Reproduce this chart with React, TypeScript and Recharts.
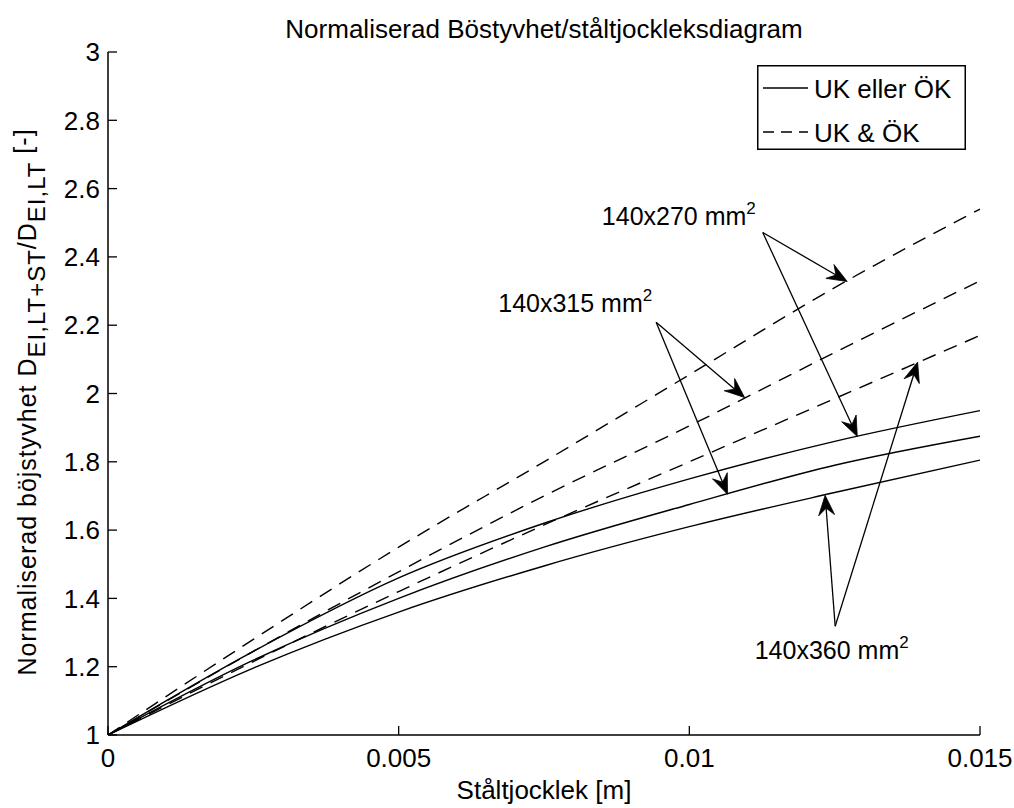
import React from 'react';
import { LineChart, Line, XAxis, YAxis, ReferenceLine, ReferenceDot, Legend } from 'recharts';

// Steel thickness [m]
const thickness = [0, 0.0025, 0.005, 0.0075, 0.01, 0.0125, 0.015];
// UK & ÖK (dashed)
const dashed270 = [1, 1.28, 1.55, 1.8, 2.055, 2.31, 2.54];
const dashed315 = [1, 1.245, 1.478, 1.7, 1.905, 2.12, 2.33];
const dashed360 = [1, 1.215, 1.42, 1.615, 1.8, 1.985, 2.17];
// UK eller ÖK (solid)
const solid270 = [1, 1.245, 1.46, 1.62, 1.75, 1.86, 1.95];
const solid315 = [1, 1.219, 1.4, 1.55, 1.675, 1.79, 1.875];
const solid360 = [1, 1.196, 1.36, 1.495, 1.61, 1.71, 1.805];

const xTicks = [0, 0.005, 0.01, 0.015];
const xTickLabels = ['0', '0.005', '0.01', '0.015'];
const yTicks = [1, 1.2, 1.4, 1.6, 1.8, 2, 2.2, 2.4, 2.6, 2.8, 3];
const yTickLabels = ['1', '1.2', '1.4', '1.6', '1.8', '2', '2.2', '2.4', '2.6', '2.8', '3'];

const legendLabels = ['UK eller ÖK', 'UK & ÖK'];
const sectionLabels = ['140x270 mm', '140x315 mm', '140x360 mm'];
// label anchor (start, baseline) in data coordinates
const labelPoints = [
  { x: 0.008495, y: 2.492 },
  { x: 0.006713, y: 2.238 },
  { x: 0.011125, y: 1.222 },
];
// annotation arrows (from label to curve) in data coordinates
const arrows = [
  { x1: 0.011263, y1: 2.4715, x2: 0.012716, y2: 2.328 },
  { x1: 0.011263, y1: 2.4715, x2: 0.012889, y2: 1.874 },
  { x1: 0.009429, y1: 2.2088, x2: 0.010952, y2: 1.988 },
  { x1: 0.009429, y1: 2.2088, x2: 0.010657, y2: 1.705 },
  { x1: 0.012509, y1: 1.3183, x2: 0.012336, y2: 1.702 },
  { x1: 0.012509, y1: 1.3183, x2: 0.013927, y2: 2.092 },
];

const data = thickness.map((t, i) => ({
  t,
  d270: dashed270[i],
  d315: dashed315[i],
  d360: dashed360[i],
  s270: solid270[i],
  s315: solid315[i],
  s360: solid360[i],
}));

const FONT = '"Liberation Sans", Arial, sans-serif';
const FS = 26;
const DASH = '14 9';

const ArrowShape = (p: any) => {
  const { x1, y1, x2, y2 } = p;
  const dx = x2 - x1;
  const dy = y2 - y1;
  const L = Math.hypot(dx, dy) || 1;
  const ux = dx / L;
  const uy = dy / L;
  const nx = -uy;
  const ny = ux;
  const len = 20;
  const hw = 8;
  const notch = 13;
  const bx = x2 - ux * len;
  const by = y2 - uy * len;
  const pts = [
    [x2, y2],
    [bx + nx * hw, by + ny * hw],
    [x2 - ux * notch, y2 - uy * notch],
    [bx - nx * hw, by - ny * hw],
  ]
    .map((q) => q.join(','))
    .join(' ');
  return (
    <g>
      <line x1={x1} y1={y1} x2={x2 - ux * notch} y2={y2 - uy * notch} stroke="#000" strokeWidth={1.3} />
      <polygon points={pts} fill="#000" stroke="#000" strokeWidth={0.8} />
    </g>
  );
};

const makeLabel = (text: string) => (p: any) => (
  <text x={p.cx} y={p.cy} fontFamily={FONT} fontSize={FS - 1} fill="#000">
    {text}
    <tspan dy={-11} fontSize={17}>2</tspan>
  </text>
);

const LegendBox = () => (
  <svg width={209} height={85} style={{ display: 'block' }}>
    <rect x={0.75} y={0.75} width={207.5} height={83.5} fill="#fff" stroke="#000" strokeWidth={1.5} />
    <line x1={6} y1={23} x2={51} y2={23} stroke="#000" strokeWidth={1.4} />
    <text x={57} y={33} fontFamily={FONT} fontSize={FS} fill="#000">{legendLabels[0]}</text>
    <line x1={6} y1={67} x2={51} y2={67} stroke="#000" strokeWidth={1.4} strokeDasharray="11 7" />
    <text x={57} y={77} fontFamily={FONT} fontSize={FS} fill="#000">{legendLabels[1]}</text>
  </svg>
);

const tickStyle = { fontSize: FS, fill: '#000', fontFamily: FONT };

export default function App() {
  return (
    <div style={{ position: 'absolute', left: 0, top: 0, width: 1014, height: 808, background: '#fff' }}>
      <LineChart
        width={1014}
        height={808}
        data={data}
        margin={{ top: 52, right: 34, bottom: 43, left: 68 }}
      >
        <XAxis
          dataKey="t"
          type="number"
          domain={[0, 0.015]}
          allowDataOverflow
          ticks={xTicks}
          interval={0}
          tickFormatter={(v: number) => xTickLabels[xTicks.indexOf(v)] ?? String(v)}
          tick={tickStyle}
          tickSize={-9}
          tickMargin={23}
          height={30}
          axisLine={{ stroke: '#000', strokeWidth: 1.5 }}
          tickLine={{ stroke: '#000', strokeWidth: 1.3 }}
        />
        <XAxis
          xAxisId="top"
          orientation="top"
          type="number"
          domain={[0, 0.015]}
          allowDataOverflow
          ticks={xTicks}
          interval={0}
          tick={false}
          tickSize={-9}
          height={0}
          axisLine={{ stroke: '#000', strokeWidth: 1.5 }}
          tickLine={{ stroke: '#000', strokeWidth: 1.3 }}
        />
        <YAxis
          type="number"
          domain={[1, 3]}
          allowDataOverflow
          ticks={yTicks}
          interval={0}
          tickFormatter={(v: number) => yTickLabels[yTicks.indexOf(v)] ?? String(v)}
          tick={tickStyle}
          tickSize={-9}
          tickMargin={17}
          width={40}
          axisLine={{ stroke: '#000', strokeWidth: 1.5 }}
          tickLine={{ stroke: '#000', strokeWidth: 1.3 }}
        />
        <YAxis
          yAxisId="right"
          orientation="right"
          type="number"
          domain={[1, 3]}
          allowDataOverflow
          ticks={yTicks}
          interval={0}
          tick={false}
          tickSize={-9}
          width={0}
          axisLine={{ stroke: '#000', strokeWidth: 1.5 }}
          tickLine={{ stroke: '#000', strokeWidth: 1.3 }}
        />
        <Legend
          layout="horizontal"
          verticalAlign="middle"
          align="center"
          wrapperStyle={{ position: 'absolute', left: 757, top: 65, width: 209, height: 85 }}
          content={() => <LegendBox />}
        />
        <Line dataKey="d270" type="monotone" stroke="#000" strokeWidth={1.4} strokeDasharray={DASH} dot={false} isAnimationActive={false} />
        <Line dataKey="d315" type="monotone" stroke="#000" strokeWidth={1.4} strokeDasharray={DASH} dot={false} isAnimationActive={false} />
        <Line dataKey="d360" type="monotone" stroke="#000" strokeWidth={1.4} strokeDasharray={DASH} dot={false} isAnimationActive={false} />
        <Line dataKey="s270" type="monotone" stroke="#000" strokeWidth={1.4} dot={false} isAnimationActive={false} />
        <Line dataKey="s315" type="monotone" stroke="#000" strokeWidth={1.4} dot={false} isAnimationActive={false} />
        <Line dataKey="s360" type="monotone" stroke="#000" strokeWidth={1.4} dot={false} isAnimationActive={false} />
        {arrows.map((a, i) => (
          <ReferenceLine
            key={`arr${i}`}
            segment={[{ x: a.x1, y: a.y1 }, { x: a.x2, y: a.y2 }]}
            ifOverflow="visible"
            shape={ArrowShape}
          />
        ))}
        {labelPoints.map((lp, i) => (
          <ReferenceDot
            key={`lab${i}`}
            x={lp.x}
            y={lp.y}
            r={1}
            ifOverflow="visible"
            shape={makeLabel(sectionLabels[i])}
          />
        ))}
      </LineChart>
      <svg
        width={1014}
        height={808}
        style={{ position: 'absolute', left: 0, top: 0, pointerEvents: 'none' }}
      >
        <text x={544} y={38} textAnchor="middle" fontFamily={FONT} fontSize={FS} fill="#000">
          Normaliserad Böstyvhet/ståltjockleksdiagram
        </text>
        <text x={544} y={799} textAnchor="middle" fontFamily={FONT} fontSize={FS} fill="#000">
          Ståltjocklek [m]
        </text>
        <text
          transform="translate(36,402) rotate(-90)"
          textAnchor="middle"
          fontFamily={FONT}
          fontSize={25}
          letterSpacing={1}
          fill="#000"
        >
          Normaliserad böjstyvhet D
          <tspan dy={9} fontSize={24}>EI,LT+ST</tspan>
          <tspan dy={-9}>/D</tspan>
          <tspan dy={9} fontSize={24}>EI,LT</tspan>
          <tspan dy={-13}> [-]</tspan>
        </text>
      </svg>
    </div>
  );
}
